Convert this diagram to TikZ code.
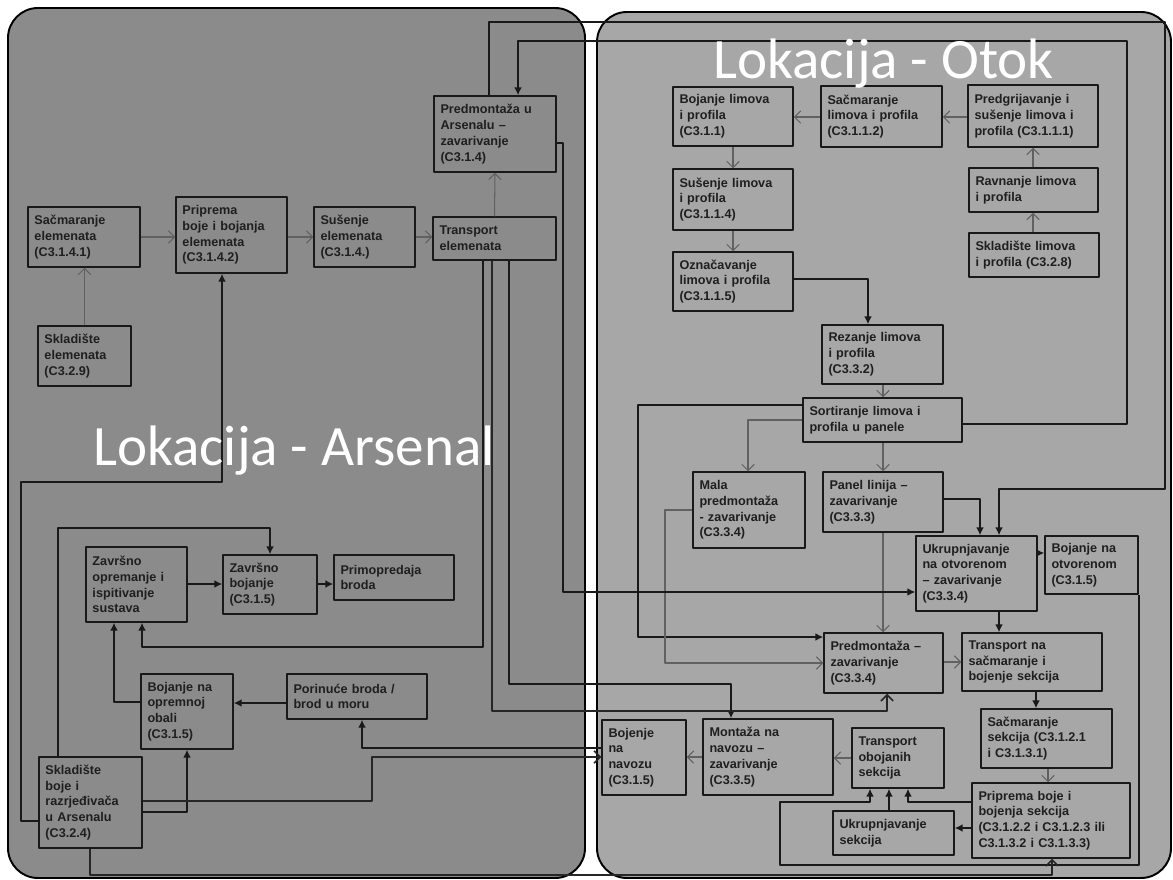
\documentclass[tikz,border=0pt]{standalone}
\usepackage{fontspec}
\setmainfont{Liberation Sans}
\newfontfamily\titlefont{Carlito}
\usetikzlibrary{arrows.meta}
\definecolor{arsGray}{RGB}{139,139,139}
\definecolor{otokGray}{RGB}{167,167,167}
\newcommand{\procbox}[6]{%
  \pgfmathsetmacro{\pbW}{(#4-#2)*0.02}%
  \pgfmathsetmacro{\pbH}{(#5-#3)*0.02}%
  \pgfmathsetmacro{\pbT}{(#4-#2)*0.02-0.26}%
  \node[proc, minimum width=\pbW cm, minimum height=\pbH cm, text width=\pbT cm] (#1) at ({(#2+#4)/2},{(#3+#5)/2}) {#6};}
\begin{document}
\begin{tikzpicture}[x=0.02cm, y=-0.02cm, line join=round,
  proc/.style={draw=black!90, line width=0.85pt, inner xsep=0.13cm, inner ysep=0.04cm, align=left,
    font=\bfseries\fontsize{7.2}{9}\selectfont, text=black!88},
  arr/.style={line width=1pt, draw=black!90, -{Latex[length=4.5pt,width=4.5pt]}},
  thn/.style={line width=0.6pt, draw=black!62, -{Straight Barb[length=3.5pt,width=7pt]}},
  opn/.style={line width=0.9pt, draw=black!85, -{Straight Barb[length=3.5pt,width=7pt]}},
  titl/.style={anchor=base west, inner sep=0pt, text=white, font=\titlefont\fontsize{32.5}{36}\selectfont}]
\useasboundingbox (0,0) rectangle (1173,879);
\draw[line width=1.1pt, fill=arsGray, rounded corners=0.6cm] (8,8) rectangle (585,878);
\draw[line width=1.1pt, fill=otokGray, rounded corners=0.6cm] (597,12) rectangle (1171,878);
\procbox{sacEl}{28}{207}{140}{267}{Sačmaranje\\ elemenata\\ (C3.1.4.1)}
\procbox{pripEl}{176}{197}{287}{273}{Priprema\\ boje i bojanja\\ elemenata\\ (C3.1.4.2)}
\procbox{susEl}{314}{207}{415}{267}{Sušenje\\ elemenata\\ (C3.1.4.)}
\procbox{trEl}{433}{217}{556}{260}{Transport\\ elemenata}
\procbox{predArs}{434}{96}{556}{172}{Predmontaža u\\ Arsenalu –\\ zavarivanje\\ (C3.1.4)}
\procbox{sklEl}{38}{326}{131}{386}{Skladište\\ elemenata\\ (C3.2.9)}
\procbox{zavOpr}{86}{547}{187}{622}{Završno\\ opremanje i\\ ispitivanje\\ sustava}
\procbox{zavBoj}{223}{555}{317}{614}{Završno\\ bojanje\\ (C3.1.5)}
\procbox{primo}{334}{555}{454}{600}{Primopredaja\\ broda}
\procbox{bojObala}{141}{674}{233}{749}{Bojanje na\\ opremnoj\\ obali\\ (C3.1.5)}
\procbox{porin}{287}{674}{427}{719}{Porinuće broda /\\ brod u moru}
\procbox{sklBoje}{39}{757}{142}{848}{Skladište\\ boje i\\ razrjeđivača\\ u Arsenalu\\ (C3.2.4)}
\procbox{bojLim}{673}{87}{793}{146}{Bojanje limova\\ i profila\\ (C3.1.1)}
\procbox{sacLim}{821}{86}{942}{147}{Sačmaranje\\ limova i profila\\ (C3.1.1.2)}
\procbox{predgr}{968}{85}{1098}{147}{Predgrijavanje i\\ sušenje limova i\\ profila (C3.1.1.1)}
\procbox{ravn}{969}{168}{1098}{212}{Ravnanje limova\\ i profila}
\procbox{sklLim}{969}{233}{1099}{277}{Skladište limova\\ i profila (C3.2.8)}
\procbox{susLim}{673}{169}{793}{230}{Sušenje limova\\ i profila\\ (C3.1.1.4)}
\procbox{oznac}{673}{252}{793}{311}{Označavanje\\ limova i profila\\ (C3.1.1.5)}
\procbox{rez}{822}{325}{943}{384}{Rezanje limova\\ i profila\\ (C3.3.2)}
\procbox{sort}{803}{398}{962}{442}{Sortiranje limova i\\ profila u panele}
\procbox{malaPred}{693}{472}{805}{548}{Mala\\ predmontaža\\ - zavarivanje\\ (C3.3.4)}
\procbox{panel}{823}{472}{943}{532}{Panel linija –\\ zavarivanje\\ (C3.3.3)}
\procbox{ukrOtv}{916}{536}{1037}{611}{Ukrupnjavanje\\ na otvorenom\\ – zavarivanje\\ (C3.3.4)}
\procbox{bojOtv}{1045}{536}{1138}{594}{Bojanje na\\ otvorenom\\ (C3.1.5)}
\procbox{predm}{824}{633}{943}{693}{Predmontaža –\\ zavarivanje\\ (C3.3.4)}
\procbox{trSac}{962}{633}{1102}{691}{Transport na\\ sačmaranje i\\ bojenje sekcija}
\procbox{sacSek}{981}{709}{1112}{768}{Sačmaranje\\ sekcija (C3.1.2.1\\ i C3.1.3.1)}
\procbox{pripSek}{972}{783}{1130}{858}{Priprema boje i\\ bojenja sekcija\\ (C3.1.2.2 i C3.1.2.3 ili\\ C3.1.3.2 i C3.1.3.3)}
\procbox{trObo}{852}{728}{944}{788}{Transport\\ obojanih\\ sekcija}
\procbox{ukrSek}{833}{811}{954}{855}{Ukrupnjavanje\\ sekcija}
\procbox{montaza}{703}{719}{833}{795}{Montaža na\\ navozu –\\ zavarivanje\\ (C3.3.5)}
\procbox{bojNav}{602}{720}{686}{795}{Bojenje\\ na\\ navozu\\ (C3.1.5)}
\draw[thn] (sacEl.east) -- (sacEl.east -| pripEl.west);
\draw[thn] (pripEl.east |- sacEl.east) -- (sacEl.east -| susEl.west);
\draw[thn] (susEl.east) -- (susEl.east -| trEl.west);
\draw[thn] (sklEl.north) -- (sklEl.north |- sacEl.south);
\draw[thn] (trEl.north) -- (predArs.south);
\draw[thn] (predgr.west |- 0,117) -- (sacLim.east |- 0,117);
\draw[thn] (sacLim.west |- 0,117) -- (bojLim.east |- 0,117);
\draw[thn] (ravn.north -| 1033,0) -- (predgr.south -| 1033,0);
\draw[thn] (sklLim.north -| 1033,0) -- (ravn.south -| 1033,0);
\draw[thn] (bojLim.south -| 733,0) -- (susLim.north -| 733,0);
\draw[thn] (susLim.south -| 733,0) -- (oznac.north -| 733,0);
\draw[arr] (oznac.east |- 0,279) -| (rez.north -| 868,0);
\draw[thn] (rez.south -| 883,0) -- (sort.north -| 883,0);
\draw[thn] (sort.south -| 883,0) -- (panel.north -| 883,0);
\draw[thn] (panel.south -| 883,0) -- (predm.north -| 883,0);
\draw[thn] (sort.west |- 0,420) -| (malaPred.north -| 748,0);
\draw[arr] (sort.west |- 0,405) -| (638,637) -- (predm.west |- 0,637);
\draw[thn] (malaPred.west |- 0,510) -| (665,663) -- (predm.west |- 0,663);
\draw[arr] (sort.east |- 0,424) -| (1127,41) -| (predArs.north -| 518,0);
\draw[arr] (predArs.north -| 489,0) |- (1165,22) |- (999,489) -- (ukrOtv.north -| 999,0);
\draw[arr] (predArs.east |- 0,143) -| (563,592) -- (ukrOtv.west |- 0,592);
\draw[arr] (panel.east |- 0,499) -| (ukrOtv.north -| 980,0);
\draw[arr] (ukrOtv.east |- 0,553) -- (bojOtv.west |- 0,553);
\draw[arr] (ukrOtv.south -| 999,0) -- (trSac.north -| 999,0);
\draw[thn] (predm.east |- 0,662) -- (trSac.west |- 0,662);
\draw[arr] (trSac.south -| 1036,0) -- (sacSek.north -| 1036,0);
\draw[thn] (sacSek.south -| 1048,0) -- (pripSek.north -| 1048,0);
\draw[arr] (pripSek.west |- 0,828) -- (ukrSek.east |- 0,828);
\draw[arr] (ukrSek.north -| 889,0) -- (trObo.south -| 889,0);
\draw[arr] (pripSek.west |- 0,802) -| (trObo.south -| 908,0);
\draw[arr] (bojOtv.south east) |- (780,865) |- (870,802) -- (trObo.south -| 870,0);
\draw[thn] (trObo.west |- 0,758) -- (montaza.east |- 0,758);
\draw[thn] (montaza.west |- 0,757) -- (bojNav.east |- 0,757);
\draw[arr] (trEl.south -| 509,0) |- (731,684) -- (montaza.north -| 731,0);
\draw[opn] (trEl.south -| 492,0) |- (887,711) -- (predm.south -| 887,0);
\draw[arr] (trEl.south -| 483,0) |- (142,647) -- (zavOpr.south -| 142,0);
\draw[arr] (sklBoje.west |- 0,821) -| (21,482) -| (pripEl.south -| 222,0);
\draw[arr] (sklBoje.north -| 58,0) |- (270,528) -- (zavBoj.north -| 270,0);
\draw[arr] (bojObala.west |- 0,702) -| (zavOpr.south -| 114,0);
\draw[arr] (zavOpr.east |- 0,584) -- (zavBoj.west |- 0,584);
\draw[arr] (zavBoj.east |- 0,584) -- (primo.west |- 0,584);
\draw[arr] (porin.west |- 0,703) -- (bojObala.east |- 0,703);
\draw[arr] (sklBoje.east |- 0,812) -| (bojObala.south -| 187,0);
\draw[arr] (bojNav.west |- 0,748) -| (porin.south -| 362,0);
\draw[opn] (sklBoje.east |- 0,801) -| (372,757) -- (bojNav.west |- 0,757);
\draw[opn] (sklBoje.south -| 90,0) |- (1052,875) -- (pripSek.south -| 1052,0);
\node[titl] (titOtok) at (713,78) {Lokacija - Otok};
\node[titl] (titArs) at (93,465) {Lokacija - Arsenal};
\end{tikzpicture}
\end{document}
